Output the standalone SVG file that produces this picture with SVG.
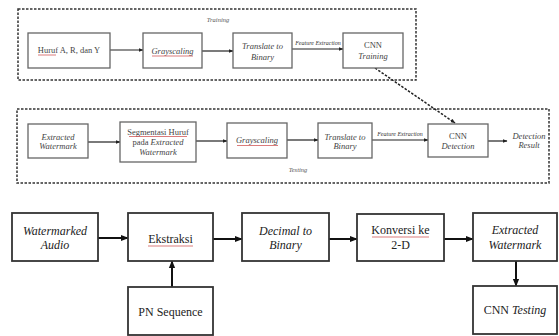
<svg xmlns="http://www.w3.org/2000/svg" width="559" height="336" viewBox="0 0 559 336">
<defs>
<marker id="ah" viewBox="0 0 10 10" refX="9" refY="5" markerWidth="5" markerHeight="5" orient="auto" markerUnits="userSpaceOnUse">
<path d="M0,1 L10,5 L0,9 z" fill="#222"/>
</marker>
<marker id="ahb" viewBox="0 0 10 10" refX="9" refY="5" markerWidth="8" markerHeight="8" orient="auto" markerUnits="userSpaceOnUse">
<path d="M0,1 L10,5 L0,9 z" fill="#111"/>
</marker>
</defs>
<style>
.frame{fill:none;stroke:#333;stroke-width:1.5;stroke-dasharray:2.5 1.5}
.sb{fill:#fff;stroke:#666;stroke-width:1.3}
.bb{fill:#fff;stroke:#333;stroke-width:1.8}
text{font-family:'Liberation Serif','Times New Roman','DejaVu Serif',serif}
.st{font-size:8.5px;fill:#444;text-anchor:middle}
.bt{font-size:12px;fill:#222;text-anchor:middle}
.it{font-style:italic}
.tiny{font-size:6px;font-style:italic;fill:#333;text-anchor:middle}
.lbl{font-size:6.5px;font-style:italic;fill:#555;text-anchor:middle}
.ca{fill:none;stroke:#222;stroke-width:1.2;marker-end:url(#ah)}
.cb{fill:none;stroke:#111;stroke-width:2;marker-end:url(#ahb)}
.cd{fill:none;stroke:#222;stroke-width:1.5;stroke-dasharray:2.5 1.5;marker-end:url(#ah)}
.sq{stroke:#c44;stroke-width:0.7;fill:none}
</style>

<g id="training-frame">
<rect class="frame" x="18" y="9" width="398" height="71"/>
<text class="lbl" x="218" y="22">Training</text>
</g>
<g id="testing-frame">
<rect class="frame" x="17" y="109" width="532" height="74"/>
<text class="lbl" x="298" y="172">Testing</text>
</g>

<g id="connectors">
<line class="ca" x1="110" y1="50" x2="143" y2="50"/>
<line class="ca" x1="202" y1="51" x2="233" y2="51"/>
<line class="ca" x1="292" y1="49" x2="343" y2="49"/>
<line class="cd" x1="375" y1="68" x2="455" y2="123"/>
<line class="ca" x1="88" y1="142" x2="120" y2="142"/>
<line class="ca" x1="196" y1="141" x2="227" y2="141"/>
<line class="ca" x1="287" y1="140" x2="318" y2="140"/>
<line class="ca" x1="372" y1="140" x2="428" y2="140"/>
<line class="ca" x1="488" y1="141" x2="507" y2="141"/>
<line class="cb" x1="98" y1="238" x2="128" y2="238"/>
<line class="cb" x1="213" y1="239" x2="242" y2="239"/>
<line class="cb" x1="329" y1="239" x2="357" y2="239"/>
<line class="cb" x1="444" y1="239" x2="473" y2="239"/>
<line class="cb" x1="172" y1="287" x2="172" y2="261"/>
<line class="cb" x1="516" y1="261" x2="516" y2="286"/>
<text class="tiny" x="318" y="45">Feature Extraction</text>
<text class="tiny" x="400" y="136">Feature Extraction</text>
</g>

<g id="huruf">
<rect class="sb" x="28" y="33" width="82" height="35"/>
<text class="st" x="69" y="53">Huruf A, R, dan Y</text>
<path class="sq" d="M38,55 L56,55"/>
</g>
<g id="grayscaling-train">
<rect class="sb" x="143" y="33" width="59" height="35"/>
<text class="st it" x="172.5" y="53.5">Grayscaling</text>
<path class="sq" d="M152,56 L193,56"/>
</g>
<g id="translate-train">
<rect class="sb" x="233" y="33" width="59" height="35"/>
<text class="st it" x="262.5" y="48.5">Translate to</text>
<text class="st it" x="262.5" y="59.5">Binary</text>
</g>
<g id="cnn-training">
<rect class="sb" x="343" y="33" width="60" height="35"/>
<text class="st" x="373" y="47.5">CNN</text>
<text class="st it" x="373" y="58.5">Training</text>
</g>

<g id="extracted-test">
<rect class="sb" x="28" y="124" width="60" height="34"/>
<text class="st it" x="58" y="139.5">Extracted</text>
<text class="st it" x="58" y="149">Watermark</text>
</g>
<g id="segmentasi">
<rect class="sb" x="120" y="122" width="76" height="40"/>
<text class="st" x="158" y="134.5">Segmentasi Huruf</text>
<text class="st" x="158" y="144.5">pada <tspan class="it">Extracted</tspan></text>
<text class="st it" x="158" y="154.5">Watermark</text>
<path class="sq" d="M129,136.5 L187,136.5"/>
</g>
<g id="grayscaling-test">
<rect class="sb" x="227" y="123" width="60" height="35"/>
<text class="st it" x="257" y="143">Grayscaling</text>
<path class="sq" d="M237,145.5 L278,145.5"/>
</g>
<g id="translate-test">
<rect class="sb" x="318" y="123" width="54" height="35"/>
<text class="st it" x="345" y="139.5">Translate to</text>
<text class="st it" x="345" y="149">Binary</text>
</g>
<g id="cnn-detection">
<rect class="sb" x="428" y="124" width="60" height="33"/>
<text class="st" x="458" y="138.5">CNN</text>
<text class="st it" x="458" y="148.5">Detection</text>
</g>
<g id="detection-result">
<text class="st it" x="529" y="138.5">Detection</text>
<text class="st it" x="529" y="147.5">Result</text>
</g>

<g id="watermarked-audio">
<rect class="bb" x="12" y="213" width="86" height="48"/>
<text class="bt it" x="55" y="235">Watermarked</text>
<text class="bt it" x="55" y="249">Audio</text>
</g>
<g id="ekstraksi">
<rect class="bb" x="128" y="213" width="85" height="48"/>
<text class="bt" x="170.5" y="243">Ekstraksi</text>
<path class="sq" d="M148,246 L193,246"/>
</g>
<g id="decimal-binary">
<rect class="bb" x="242" y="213" width="87" height="48"/>
<text class="bt it" x="285.5" y="235">Decimal to</text>
<text class="bt it" x="285.5" y="249">Binary</text>
</g>
<g id="konversi">
<rect class="bb" x="357" y="214" width="87" height="47"/>
<text class="bt" x="400.5" y="234">Konversi ke</text>
<text class="bt" x="400.5" y="249">2-D</text>
<path class="sq" d="M372,237 L429,237"/>
</g>
<g id="extracted-watermark">
<rect class="bb" x="473" y="213" width="84" height="48"/>
<text class="bt it" x="515" y="234">Extracted</text>
<text class="bt it" x="515" y="249">Watermark</text>
</g>
<g id="pn-sequence">
<rect class="bb" x="128" y="287" width="85" height="48"/>
<text class="bt" x="170.5" y="316">PN Sequence</text>
</g>
<g id="cnn-testing">
<rect class="bb" x="473" y="286" width="84" height="48"/>
<text class="bt" x="515" y="314">CNN <tspan class="it">Testing</tspan></text>
</g>
</svg>
